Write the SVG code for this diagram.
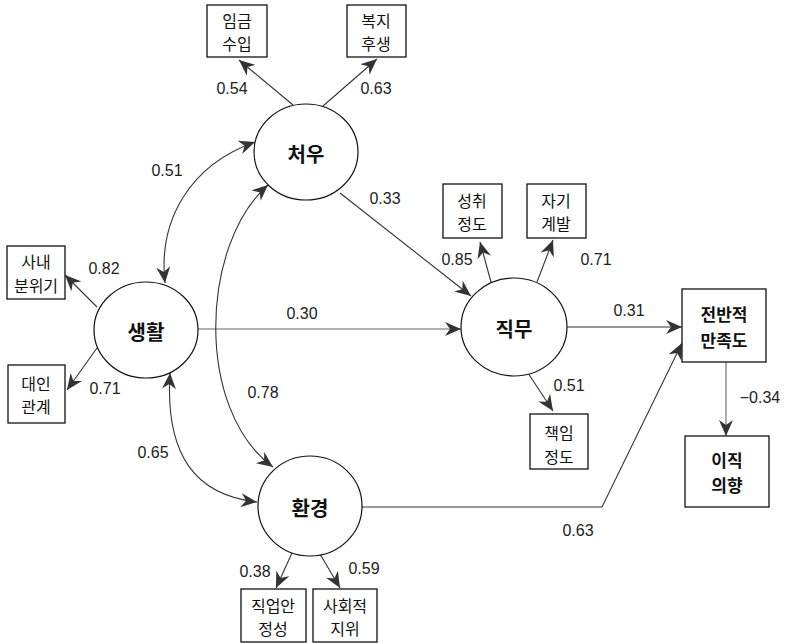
<svg xmlns="http://www.w3.org/2000/svg" width="788" height="643" viewBox="0 0 788 643">
<style>
.box{fill:#fff;stroke:#111;stroke-width:1.3}
.ell{fill:#fff;stroke:#111;stroke-width:1.2}
.bt{font-family:"Noto Sans CJK KR","Noto Sans",sans-serif;font-size:16px;fill:#111;text-anchor:middle;dominant-baseline:central}
.bb{font-family:"Noto Sans CJK KR","Noto Sans",sans-serif;font-size:17px;font-weight:bold;fill:#111;text-anchor:middle;dominant-baseline:central}
.et{font-family:"Noto Sans CJK KR","Noto Sans",sans-serif;font-size:20px;font-weight:bold;fill:#111;text-anchor:middle;dominant-baseline:central}
.lb{font-family:"Liberation Sans",Arial,sans-serif;font-size:16px;fill:#222;text-anchor:middle;dominant-baseline:central}
.c{fill:none;stroke:#333;stroke-width:1.1}
.g{stroke:#666}
</style>
<defs>
<marker id="ah" markerUnits="userSpaceOnUse" markerWidth="18" markerHeight="14" refX="16" refY="7" orient="auto-start-reverse" viewBox="0 0 18 14">
<path d="M0,0 L16,7 L0,14 L5,7 z" fill="#333"/>
</marker>
</defs>
<g id="connectors">
<line class="c" x1="293" y1="105" x2="239" y2="60" marker-end="url(#ah)"/>
<line class="c" x1="323" y1="106" x2="377" y2="59" marker-end="url(#ah)"/>
<line class="c" x1="97" y1="307" x2="65" y2="275" marker-end="url(#ah)"/>
<line class="c" x1="97" y1="348" x2="67" y2="390" marker-end="url(#ah)"/>
<line class="c" x1="491" y1="282" x2="480" y2="242" marker-end="url(#ah)"/>
<line class="c" x1="537" y1="282" x2="553" y2="240" marker-end="url(#ah)"/>
<line class="c" x1="528" y1="373" x2="553" y2="411" marker-end="url(#ah)"/>
<line class="c" x1="340" y1="193" x2="471" y2="296" marker-end="url(#ah)"/>
<line class="c g" x1="198" y1="329" x2="461" y2="329" marker-end="url(#ah)"/>
<line class="c" x1="567" y1="327" x2="682" y2="327" marker-end="url(#ah)"/>
<polyline class="c" points="362,507 602,507 682,343" marker-end="url(#ah)"/>
<line class="c g" x1="726" y1="362" x2="726" y2="436" marker-end="url(#ah)"/>
<line class="c" x1="292" y1="553" x2="276" y2="588" marker-end="url(#ah)"/>
<line class="c" x1="320" y1="554" x2="340" y2="588" marker-end="url(#ah)"/>
<path class="c" d="M165,283 C158,220 190,165 255,142" marker-start="url(#ah)" marker-end="url(#ah)"/>
<path class="c" d="M268,185 C200,245 195,410 273,467" marker-start="url(#ah)" marker-end="url(#ah)"/>
<path class="c" d="M170,373 C165,455 195,495 257,502" marker-start="url(#ah)" marker-end="url(#ah)"/>
<text class="lb" x="232" y="88">0.54</text>
<text class="lb" x="376" y="88">0.63</text>
<text class="lb" x="104" y="268">0.82</text>
<text class="lb" x="105" y="388">0.71</text>
<text class="lb" x="167" y="170">0.51</text>
<text class="lb" x="385" y="198">0.33</text>
<text class="lb" x="457" y="259">0.85</text>
<text class="lb" x="596" y="259">0.71</text>
<text class="lb" x="302" y="313">0.30</text>
<text class="lb" x="629" y="310">0.31</text>
<text class="lb" x="569" y="385">0.51</text>
<text class="lb" x="263" y="392">0.78</text>
<text class="lb" x="153" y="452">0.65</text>
<text class="lb" x="760" y="397">−0.34</text>
<text class="lb" x="578" y="530">0.63</text>
<text class="lb" x="255" y="571">0.38</text>
<text class="lb" x="364" y="568">0.59</text>
</g>
<g id="n-cheou"><ellipse class="ell" cx="306" cy="152" rx="52" ry="48"/><text class="et" x="306" y="153">처우</text></g>
<g id="n-saenghwal"><ellipse class="ell" cx="146" cy="330" rx="52" ry="48"/><text class="et" x="146" y="331">생활</text></g>
<g id="n-jikmu"><ellipse class="ell" cx="514" cy="327" rx="53" ry="49"/><text class="et" x="514" y="328">직무</text></g>
<g id="n-hwangyeong"><ellipse class="ell" cx="310" cy="506" rx="52" ry="50"/><text class="et" x="310" y="507">환경</text></g>
<g id="b-imgeum"><rect class="box" x="207" y="5" width="60" height="52"/><text class="bt" x="237" y="19.5">임금<tspan x="237" dy="23.5">수입</tspan></text></g>
<g id="b-bokji"><rect class="box" x="347" y="5" width="59" height="52"/><text class="bt" x="376" y="19.5">복지<tspan x="376" dy="23.5">후생</tspan></text></g>
<g id="b-sanae"><rect class="box" x="7" y="246" width="58" height="53"/><text class="bt" x="36" y="261">사내<tspan x="36" dy="23.5">분위기</tspan></text></g>
<g id="b-daein"><rect class="box" x="8" y="365" width="57" height="58"/><text class="bt" x="36" y="382.5">대인<tspan x="36" dy="23.5">관계</tspan></text></g>
<g id="b-seongchwi"><rect class="box" x="443" y="184" width="59" height="54"/><text class="bt" x="472" y="199.5">성취<tspan x="472" dy="23.5">정도</tspan></text></g>
<g id="b-jagi"><rect class="box" x="527" y="184" width="59" height="54"/><text class="bt" x="556" y="199.5">자기<tspan x="556" dy="23.5">계발</tspan></text></g>
<g id="b-chaegim"><rect class="box" x="530" y="414" width="58" height="55"/><text class="bt" x="559" y="432">책임<tspan x="559" dy="23.5">정도</tspan></text></g>
<g id="b-jeonban"><rect class="box" x="682" y="289" width="84" height="73"/><text class="bb" x="724" y="313.5">전반적<tspan x="724" dy="25">만족도</tspan></text></g>
<g id="b-ijik"><rect class="box" x="685" y="436" width="84" height="71"/><text class="bb" x="727" y="459">이직<tspan x="727" dy="25">의향</tspan></text></g>
<g id="b-jigeop"><rect class="box" x="241" y="589" width="65" height="53"/><text class="bt" x="273" y="604.5">직업안<tspan x="273" dy="23.5">정성</tspan></text></g>
<g id="b-sahoe"><rect class="box" x="313" y="589" width="64" height="53"/><text class="bt" x="345" y="604.5">사회적<tspan x="345" dy="23.5">지위</tspan></text></g>
</svg>
